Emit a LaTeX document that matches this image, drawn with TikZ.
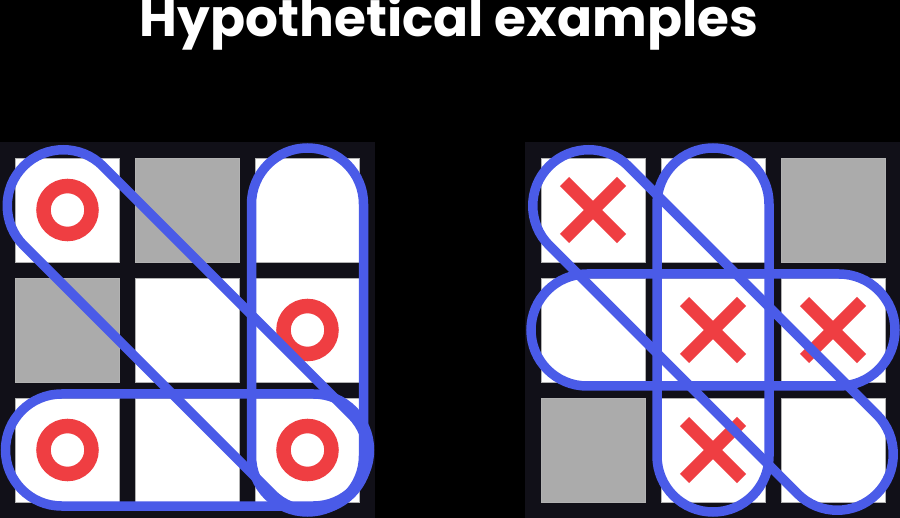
\documentclass[tikz,border=0pt]{standalone}
\usepackage{fontspec}
\newfontfamily\titlefont{Poppins}
\usetikzlibrary{shapes.misc}
\definecolor{panel}{HTML}{111018}
\definecolor{boardgray}{HTML}{ABABAB}
\definecolor{markred}{HTML}{EF3E42}
\definecolor{bandblue}{HTML}{4A5BE8}
\begin{document}
\begin{tikzpicture}[x=1pt, y=-1pt, node distance=120pt,
    cell/.style = {draw=gray!60, line width=0.8pt, fill=white, minimum size=104pt, inner sep=0pt, outer sep=0pt},
    blank/.style = {cell, fill=boardgray},
    nought/.style = {draw=markred, circle, line width=14.5pt, minimum size=48pt, inner sep=0pt},
    cross/.style = {draw=markred, cross out, line width=13pt, minimum size=57pt, inner sep=0pt, outer sep=0pt},
    band/.style = {draw=bandblue, line width=9.5pt, rounded corners=56pt}]
    \useasboundingbox (0,0) rectangle (900,518);
    \fill[black] (0,0) rectangle (900,518);
    \node[font=\titlefont\bfseries\fontsize{51.7}{52}\selectfont, text=white, anchor=base] (title) at (449,37) {Hypothetical examples};
    % left board
    \fill[panel] (0,142) rectangle (375,518);
    \node[cell] (a1) at (67.5,210) {};
    \node[blank] (a2) [right of=a1] {};
    \node[cell] (a3) [right of=a2] {};
    \node[blank] (a4) [below of=a1] {};
    \node[cell] (a5) [right of=a4] {};
    \node[cell] (a6) [right of=a5] {};
    \node[cell] (a7) [below of=a4] {};
    \node[cell] (a8) [right of=a7] {};
    \node[cell] (a9) [right of=a8] {};
    \node[nought] (o1) at (a1) {};
    \node[nought] (o6) at (a6) {};
    \node[nought] (o7) at (a7) {};
    \node[nought] (o9) at (a9) {};
    \draw[band] ([shift={(-62,-56)}]a7.center) rectangle ([shift={(62,56)}]a9.center);
    \draw[band] ([shift={(-56,-62)}]a3.center) rectangle ([shift={(56,62)}]a9.center);
    \begin{scope}[shift={(a1.center)}, rotate=-45]
        \draw[band] (-62,-56) rectangle (401.4,56);
    \end{scope}
    % right board
    \fill[panel] (525,142) rectangle (900,518);
    \node[cell] (b1) at (593,210) {};
    \node[cell] (b2) [right of=b1] {};
    \node[blank] (b3) [right of=b2] {};
    \node[cell] (b4) [below of=b1] {};
    \node[cell] (b5) [right of=b4] {};
    \node[cell] (b6) [right of=b5] {};
    \node[blank] (b7) [below of=b4] {};
    \node[cell] (b8) [right of=b7] {};
    \node[cell] (b9) [right of=b8] {};
    \node[cross] (x1) at (b1) {};
    \node[cross] (x5) at (b5) {};
    \node[cross] (x6) at (b6) {};
    \node[cross] (x8) at (b8) {};
    \draw[band] ([shift={(-62,-56)}]b4.center) rectangle ([shift={(62,56)}]b6.center);
    \draw[band] ([shift={(-56,-62)}]b2.center) rectangle ([shift={(56,62)}]b8.center);
    \begin{scope}[shift={(b1.center)}, rotate=-45]
        \draw[band] (-62,-56) rectangle (401.4,56);
    \end{scope}
\end{tikzpicture}
\end{document}
